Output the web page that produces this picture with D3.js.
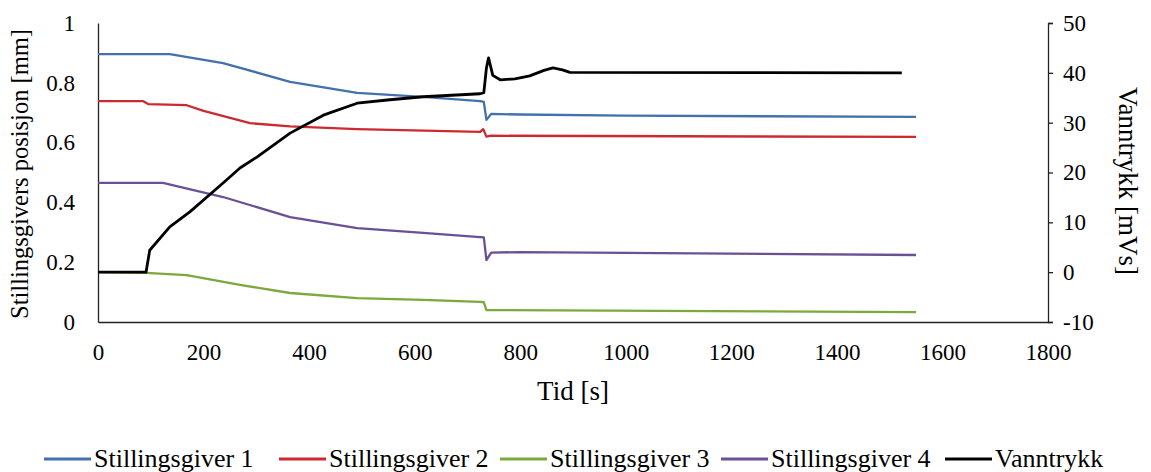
<!DOCTYPE html>
<html>
<head>
<meta charset="utf-8">
<script src="https://cdn.jsdelivr.net/npm/d3@7"></script>
<style>
  body { margin: 0; background: #fff; }
  svg text { font-family: "Liberation Serif", "Times New Roman", serif; fill: #000; }
</style>
</head>
<body>
<svg id="chart"></svg>
<script>
// tid [s] og verdier for hver serie
const tid1 = [0, 136, 237, 364, 491, 616, 724, 731, 736, 745, 800, 1000, 1550]
const sg1 = [0.896, 0.896, 0.866, 0.803, 0.766, 0.753, 0.739, 0.736, 0.676, 0.696, 0.694, 0.69, 0.686]

const tid2 = [0, 85, 95, 168, 200, 288, 364, 491, 724, 730, 736, 745, 1550]
const sg2 = [0.739, 0.739, 0.729, 0.725, 0.706, 0.665, 0.654, 0.645, 0.636, 0.645, 0.62, 0.623, 0.619]

const tid3 = [0, 91, 168, 269, 364, 491, 616, 724, 731, 736, 1550]
const sg3 = [0.167, 0.164, 0.157, 0.124, 0.097, 0.080, 0.074, 0.067, 0.066, 0.040, 0.033]

const tid4 = [0, 123, 237, 364, 491, 616, 724, 731, 736, 745, 800, 1550]
const sg4 = [0.465, 0.465, 0.418, 0.351, 0.314, 0.298, 0.284, 0.283, 0.207, 0.232, 0.234, 0.224]

const tid5 = [0, 91, 98, 136, 174, 237, 269, 301, 364, 427, 491, 553, 616, 724, 731, 736, 740, 748, 762, 790, 818, 845, 862, 880, 894, 1523]
const vanntrykk = [0, 0, 4.4, 9.1, 12.1, 17.9, 20.9, 23.1, 27.9, 31.5, 33.9, 34.6, 35.2, 35.8, 36, 41, 43, 39.5, 38.6, 38.8, 39.4, 40.5, 41, 40.6, 40.1, 40]

const xTicks = [0, 200, 400, 600, 800, 1000, 1200, 1400, 1600, 1800]
const yLeftTicks = [0, 0.2, 0.4, 0.6, 0.8, 1]
const yRightTicks = [-10, 0, 10, 20, 30, 40, 50]

const serier = [
  { navn: 'Stillingsgiver 1', t: tid1, v: sg1, farge: '#4271ae', akse: 'v' },
  { navn: 'Stillingsgiver 2', t: tid2, v: sg2, farge: '#cc2a30', akse: 'v' },
  { navn: 'Stillingsgiver 3', t: tid3, v: sg3, farge: '#7da83c', akse: 'v' },
  { navn: 'Stillingsgiver 4', t: tid4, v: sg4, farge: '#6a5196', akse: 'v' },
  { navn: 'Vanntrykk', t: tid5, v: vanntrykk, farge: '#000000', akse: 'h' }
]

const serif = '"Liberation Serif", "Times New Roman", serif'
const width = 1151
const height = 472
const plotLeft = 98
const plotRight = 1048
const plotTop = 23
const plotBottom = 322

let svg = d3.select('#chart').attr('width', width).attr('height', height)

const scX = d3.scaleLinear().domain([0, 1800]).range([plotLeft, plotRight])
const scYv = d3.scaleLinear().domain([0, 1]).range([plotBottom, plotTop])
const scYh = d3.scaleLinear().domain([-10, 50]).range([plotBottom, plotTop])

// akser
let axX = svg.append('g')
  .attr('transform', `translate(0, ${plotBottom})`)
  .call(d3.axisBottom(scX).tickValues(xTicks).tickSize(0).tickPadding(22).tickFormat(d => String(d)))

let axL = svg.append('g')
  .attr('transform', `translate(${plotLeft}, 0)`)
  .call(d3.axisLeft(scYv).tickValues(yLeftTicks).tickSize(0).tickPadding(23).tickFormat(d => d === 0 || d === 1 ? String(d) : d.toFixed(1)))

let axR = svg.append('g')
  .attr('transform', `translate(${plotRight}, 0)`)
  .call(d3.axisRight(scYh).tickValues(yRightTicks).tickSize(5).tickSizeOuter(5).tickPadding(10).tickFormat(d => String(d)))

;[axX, axL, axR].forEach(ax => {
  ax.attr('font-family', serif)
  ax.selectAll('text').style('font-family', serif).style('font-size', '23px')
})

svg.selectAll('.domain').attr('stroke', '#222').attr('stroke-width', 1.3)
svg.selectAll('.tick line').attr('stroke', '#222').attr('stroke-width', 1.3)

// linjer
serier.forEach(s => {
  const ys = s.akse === 'h' ? scYh : scYv
  const line = d3.line()
    .x((d, i) => scX(s.t[i]))
    .y(d => ys(d))
  svg.append('path')
    .datum(s.v)
    .attr('d', line)
    .attr('fill', 'none')
    .attr('stroke', s.farge)
    .attr('stroke-width', s.akse === 'h' ? 2.8 : 2.3)
    .attr('stroke-linejoin', 'round')
})

// aksetitler
svg.append('text')
  .attr('x', (plotLeft + plotRight) / 2)
  .attr('y', 400)
  .attr('text-anchor', 'middle')
  .style('font-family', serif)
  .style('font-size', '27px')
  .text('Tid [s]')

svg.append('text')
  .attr('transform', 'translate(28, 174) rotate(-90)')
  .attr('text-anchor', 'middle')
  .style('font-family', serif)
  .style('font-size', '24.5px')
  .text('Stillingsgivers  posisjon [mm]')

svg.append('text')
  .attr('transform', 'translate(1119, 181) rotate(90)')
  .attr('text-anchor', 'middle')
  .style('font-family', serif)
  .style('font-size', '27px')
  .text('Vanntrykk [mVs]')

// tegnforklaring
const legX = [44, 279, 500, 721, 945]
serier.forEach((s, i) => {
  let g = svg.append('g').attr('transform', `translate(${legX[i]}, 459)`)
  g.append('line').attr('x1', 0).attr('x2', 47).attr('y1', 0).attr('y2', 0)
    .attr('stroke', s.farge).attr('stroke-width', 3)
  g.append('text').attr('x', 50).attr('y', 8)
    .style('font-family', serif).style('font-size', '26px').text(s.navn)
})
</script>
</body>
</html>
